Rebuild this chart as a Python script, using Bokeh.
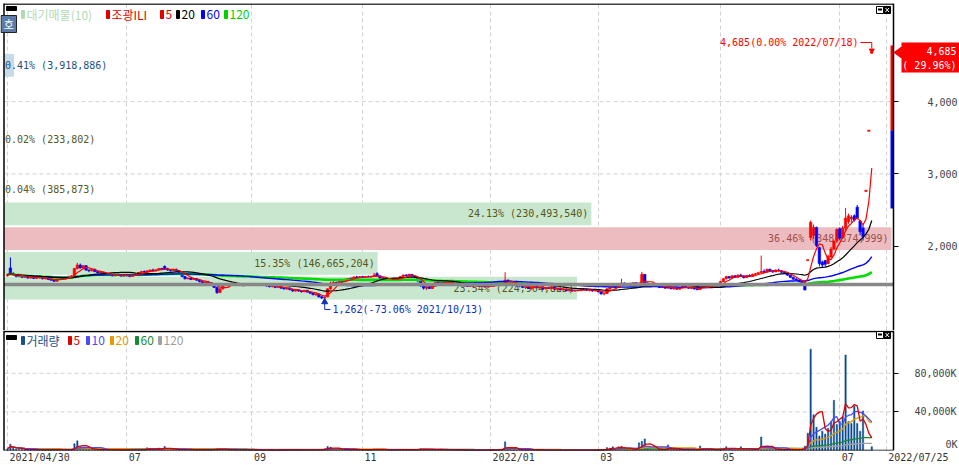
import numpy as np
import pandas as pd
from bokeh.plotting import figure
from bokeh.layouts import column
from bokeh.models import (ColumnDataSource, Range1d, FixedTicker, Grid,
                          LinearAxis, NumeralTickFormatter)
from bokeh.core.properties import value
from bokeh.embed import file_html
from bokeh.resources import INLINE

# ---------------- data ----------------
opens = [
 1590,1700,1620,1600,1580,1590,1570,1585,1560,1575,
 1555,1570,1565,1550,1560,1540,1530,1515,1550,1560,
 1545,1570,1585,1590,1690,1740,1700,1730,1670,1660,
 1680,1650,1630,1640,1610,1625,1600,1590,1615,1600,
 1585,1595,1590,1580,1610,1620,1635,1650,1640,1660,
 1670,1660,1675,1690,1720,1690,1670,1665,1680,1660,
 1630,1580,1550,1560,1540,1550,1530,1510,1490,1505,
 1495,1475,1430,1360,1410,1470,1460,1470,1490,1465,
 1475,1455,1465,1485,1470,1475,1460,1470,1465,1470,
 1450,1440,1450,1430,1445,1420,1410,1420,1400,1380,
 1395,1380,1370,1390,1365,1350,1330,1340,1300,1285,
 1300,1410,1490,1500,1495,1515,1510,1545,1555,1545,
 1575,1565,1580,1570,1580,1575,1585,1620,1590,1560,
 1545,1550,1530,1545,1535,1555,1580,1600,1590,1610,
 1585,1570,1520,1450,1420,1440,1415,1460,1500,1490,
 1510,1500,1510,1495,1475,1460,1470,1450,1465,1445,
 1455,1450,1460,1445,1455,1440,1450,1445,1465,1480,
 1495,1510,1530,1510,1500,1470,1450,1460,1430,1440,
 1415,1435,1445,1425,1435,1410,1425,1415,1435,1405,
 1415,1395,1405,1385,1395,1380,1390,1385,1405,1400,
 1390,1395,1380,1390,1370,1340,1345,1410,1430,1450,
 1430,1460,1490,1470,1485,1480,1495,1480,1470,1610,
 1490,1475,1480,1460,1450,1430,1445,1420,1435,1410,
 1420,1405,1425,1450,1430,1420,1430,1410,1400,1435,
 1445,1440,1455,1450,1465,1450,1510,1550,1580,1560,
 1590,1570,1600,1590,1565,1595,1580,1610,1620,1635,
 1650,1640,1680,1660,1645,1670,1660,1640,1630,1600,
 1570,1545,1530,1510,1490,1800,2120,2150,2260,1980,
 1780,1800,1760,1850,1960,2080,2240,2120,2250,2340,
 2380,2420,2540,2350,2250,2758,3590,4670]
highs = [
 1620,1845,1640,1610,1600,1600,1590,1590,1580,1580,
 1575,1585,1570,1565,1570,1550,1535,1560,1570,1565,
 1575,1590,1600,1700,1770,1760,1740,1740,1680,1690,
 1690,1660,1650,1645,1630,1630,1615,1620,1625,1610,
 1600,1605,1600,1615,1630,1640,1660,1665,1670,1680,
 1690,1680,1700,1700,1735,1700,1680,1690,1690,1665,
 1640,1590,1570,1565,1555,1560,1540,1520,1510,1520,
 1500,1480,1440,1420,1480,1490,1480,1500,1495,1480,
 1485,1470,1490,1490,1480,1480,1475,1475,1480,1475,
 1460,1455,1455,1450,1450,1430,1425,1430,1410,1400,
 1400,1390,1395,1395,1375,1360,1345,1345,1310,1300,
 1420,1510,1520,1510,1520,1530,1550,1560,1570,1580,
 1590,1585,1590,1585,1595,1590,1630,1640,1595,1570,
 1560,1555,1550,1555,1560,1585,1610,1615,1620,1615,
 1600,1575,1525,1460,1450,1450,1470,1510,1515,1520,
 1520,1515,1525,1500,1485,1475,1480,1470,1470,1460,
 1465,1465,1470,1460,1460,1455,1460,1470,1490,1500,
 1520,1640,1540,1530,1505,1480,1465,1470,1445,1450,
 1440,1450,1460,1440,1450,1430,1440,1440,1445,1420,
 1420,1410,1410,1400,1400,1395,1400,1410,1420,1410,
 1400,1400,1395,1395,1380,1350,1420,1440,1460,1470,
 1470,1550,1500,1490,1495,1500,1500,1490,1645,1615,
 1500,1490,1485,1470,1460,1450,1450,1440,1440,1425,
 1430,1430,1460,1455,1440,1435,1435,1420,1440,1450,
 1455,1460,1465,1470,1470,1520,1560,1590,1585,1600,
 1600,1610,1620,1600,1600,1610,1620,1630,1640,1870,
 1680,1690,1690,1670,1680,1690,1670,1660,1640,1610,
 1580,1560,1545,1520,1495,1813,2355,2300,2270,1990,
 1800,1810,1880,1990,2090,2250,2260,2280,2530,2450,
 2430,2440,2570,2360,2300,2773,3605,4685]
lows = [
 1580,1610,1590,1570,1570,1560,1560,1550,1550,1545,
 1545,1555,1540,1540,1530,1520,1505,1510,1545,1540,
 1540,1560,1570,1585,1680,1690,1680,1660,1640,1650,
 1640,1620,1615,1600,1600,1590,1580,1585,1595,1580,
 1575,1580,1570,1575,1600,1610,1625,1630,1635,1650,
 1655,1650,1665,1670,1680,1660,1650,1660,1650,1620,
 1570,1540,1540,1530,1530,1520,1500,1480,1480,1490,
 1465,1420,1340,1350,1400,1450,1440,1460,1460,1450,
 1450,1440,1460,1465,1460,1455,1455,1455,1460,1440,
 1430,1430,1420,1420,1410,1400,1395,1390,1370,1370,
 1370,1360,1365,1360,1340,1320,1310,1290,1270,1262,
 1295,1400,1480,1485,1490,1500,1505,1535,1540,1540,
 1560,1560,1565,1560,1570,1565,1575,1580,1550,1535,
 1530,1520,1525,1530,1530,1550,1575,1585,1585,1580,
 1560,1510,1440,1400,1395,1410,1410,1455,1485,1485,
 1495,1490,1490,1470,1455,1450,1445,1440,1440,1435,
 1440,1445,1440,1435,1430,1430,1440,1440,1460,1470,
 1490,1500,1500,1490,1460,1440,1430,1420,1410,1410,
 1400,1420,1420,1410,1405,1400,1410,1410,1400,1395,
 1390,1385,1380,1375,1370,1370,1375,1380,1395,1380,
 1375,1370,1375,1360,1330,1320,1340,1400,1420,1420,
 1425,1450,1460,1460,1470,1475,1470,1465,1465,1480,
 1465,1460,1450,1440,1420,1420,1410,1410,1405,1400,
 1400,1400,1420,1420,1410,1405,1400,1390,1395,1425,
 1430,1435,1440,1445,1440,1445,1505,1540,1550,1555,
 1560,1565,1580,1555,1560,1575,1575,1600,1610,1620,
 1630,1635,1650,1630,1640,1650,1630,1620,1590,1560,
 1530,1520,1500,1480,1390,1800,2080,2100,1990,1720,
 1700,1720,1750,1840,1940,2050,2080,2100,2200,2310,
 2330,2340,2370,2150,2080,2758,3590,4670]
closes = [
 1605,1625,1600,1580,1595,1570,1585,1560,1575,1555,
 1570,1565,1550,1560,1540,1530,1515,1550,1560,1545,
 1570,1585,1590,1690,1740,1700,1730,1670,1660,1680,
 1650,1630,1640,1610,1625,1600,1590,1615,1600,1585,
 1595,1590,1580,1610,1620,1635,1650,1640,1660,1670,
 1660,1675,1690,1680,1690,1670,1665,1680,1660,1630,
 1580,1550,1560,1540,1550,1530,1510,1490,1505,1495,
 1475,1430,1360,1410,1470,1460,1470,1490,1465,1475,
 1455,1465,1485,1470,1475,1460,1470,1465,1470,1450,
 1440,1450,1430,1445,1420,1410,1420,1400,1380,1395,
 1380,1370,1390,1365,1350,1330,1340,1300,1285,1295,
 1410,1490,1500,1495,1515,1510,1545,1555,1545,1575,
 1565,1580,1570,1580,1575,1585,1600,1590,1560,1545,
 1550,1530,1545,1535,1555,1580,1600,1590,1610,1585,
 1570,1520,1450,1420,1440,1415,1460,1500,1490,1510,
 1500,1510,1495,1475,1460,1470,1450,1465,1445,1455,
 1450,1460,1445,1455,1440,1450,1445,1465,1480,1495,
 1510,1530,1510,1500,1470,1450,1460,1430,1440,1415,
 1435,1445,1425,1435,1410,1425,1415,1435,1405,1415,
 1395,1405,1385,1395,1380,1390,1385,1405,1400,1390,
 1395,1380,1390,1370,1340,1345,1410,1430,1450,1430,
 1460,1490,1470,1485,1480,1495,1480,1485,1610,1490,
 1475,1480,1460,1450,1430,1445,1420,1435,1410,1420,
 1405,1425,1450,1430,1420,1430,1410,1400,1435,1445,
 1440,1455,1450,1465,1450,1510,1550,1580,1560,1590,
 1570,1600,1590,1565,1595,1580,1610,1620,1635,1650,
 1640,1680,1660,1645,1670,1660,1640,1630,1600,1570,
 1545,1530,1510,1490,1395,1813,2330,2260,2010,1760,
 1740,1750,1860,1960,2070,2230,2110,2250,2390,2420,
 2400,2360,2390,2200,2133,2773,3605,4685]
# volume in thousands of shares
volumes_k = [
 1800,6500,2400,1300,900,1100,800,700,900,600,
 700,500,800,600,900,700,1400,1100,600,500,
 600,900,1200,7000,10000,3800,2600,2100,1300,1000,
 900,800,700,600,500,700,600,500,400,600,
 500,400,500,800,1000,900,1300,700,2800,2000,
 1500,1200,2600,1400,4200,1600,1000,800,700,900,
 1200,1100,700,600,800,700,900,1000,600,500,
 800,1500,2200,1400,1100,800,700,600,700,500,
 600,500,700,600,500,400,500,600,400,500,
 600,500,400,500,700,600,500,400,600,700,
 500,600,700,500,800,900,700,1100,1400,1800,
 4200,3500,1800,1200,1000,900,1300,1100,800,1000,
 900,800,700,900,600,800,1900,1400,900,700,
 600,700,500,600,800,1000,1200,800,900,700,
 800,1300,2100,1600,1000,900,1200,1400,900,800,
 700,600,700,500,600,500,400,600,500,400,
 500,400,600,500,400,500,600,700,900,1100,
 1500,9000,2500,1300,900,800,700,600,700,500,
 600,500,400,500,600,400,500,400,500,400,
 400,500,300,400,500,400,300,600,400,500,
 400,500,600,500,900,1000,3000,2400,3900,1800,
 3800,4400,1500,1200,900,800,1000,8000,9500,12000,
 2500,1600,1100,900,800,1000,1200,5800,1500,900,
 700,800,1100,900,700,600,800,700,4700,1200,
 900,1000,800,700,900,1800,2500,4000,1800,1300,
 1100,1500,3800,1400,1000,1200,1500,1700,2000,14000,
 2500,1800,1400,1200,1000,900,800,900,1100,1000,
 800,900,1200,1500,4500,18000,105000,37000,24000,15000,
 20000,17000,23000,30000,52000,27000,30000,35000,99000,30000,
 28000,46000,28000,20000,41000,386,234,3919]

date_tick_idx = [0, 41, 84, 122, 166, 203, 245, 286, 302]
date_tick_labels = ["2021/04/30", "07", "09", "11", "2022/01", "03", "05", "07", "2022/07/25"]
price_ticks = [2000, 3000, 4000]
volume_ticks = [0, 40000, 80000]
volume_tick_labels = ["0K", "40,000K", "80,000K"]
base_line_price = 1470
band_pcts = [23.54, 15.35, 36.46, 24.13, 0.04, 0.0, 0.02, 0.0, 0.0, 0.41]
band_vols = [224964825, 146665204, 348874999, 230493540, 385873, 0, 233802, 0, 0, 3918886]
low_date = "2021/10/13"
high_date = "2022/07/18"
last_change_pct = 29.96
range_bar_levels = [2520, 3605, 4776]
price_ma_windows = [5, 20, 60, 120]
volume_ma_windows = [5, 10, 20, 60, 120]

n = len(closes)
for name, arr in [("opens", opens), ("highs", highs), ("lows", lows), ("vol", volumes_k)]:
    assert len(arr) == n, (name, len(arr), n)

# ---------------- helpers: reference-pixel -> data coordinates ----------------
def xr(px):
    return (px - 7.0) / 2.91

def pr(py):
    return 2000.0 - (py - 245.7) * 13.83

def vr(py):
    return (450.0 - py) / 38.6 * 40000.0

MONO = "DejaVu Sans Mono"
KR = "Noto Sans CJK KR"
GRID_C = "#d2d2d2"
CHAR_W = 6.02

df = pd.DataFrame(dict(i=np.arange(n), o=opens, h=highs, l=lows, c=closes, v=volumes_k))
df["color"] = np.where(df.c >= df.o, "#ff0000", "#0000ff")
df["top"] = df[["o", "c"]].max(axis=1)
df["bot"] = df[["o", "c"]].min(axis=1)
for w in price_ma_windows:
    df[f"ma{w}"] = df.c.rolling(w, min_periods=1).mean()
for w in volume_ma_windows:
    df[f"vma{w}"] = df.v.rolling(w, min_periods=1).mean()
src = ColumnDataSource(df)

price_low = min(lows)
price_high = max(highs)
i_low = int(np.argmin(lows))
i_high = int(np.argmax(highs))
last_price = closes[-1]

X_RANGE = Range1d(xr(0), xr(959))


def txt(fig, x, y, text, color, font=MONO, size="10px", align="left", baseline="middle"):
    fig.text(x=[x], y=[y], text=[text], text_color=color, text_font=value(font),
             text_font_size=size, text_align=align, text_baseline=baseline)


def icons(fig, yconv, ytop):
    fig.quad(left=[xr(876)], right=[xr(883)], top=[yconv(ytop)], bottom=[yconv(ytop + 7)],
             fill_color="white", line_color="black", line_width=1)
    fig.quad(left=[xr(877.5)], right=[xr(881.5)], top=[yconv(ytop + 2)], bottom=[yconv(ytop + 4)],
             fill_color="black", line_color=None)
    fig.quad(left=[xr(883.5)], right=[xr(890)], top=[yconv(ytop)], bottom=[yconv(ytop + 7)],
             fill_color="black", line_color="black")
    fig.segment(x0=[xr(885), xr(885)], y0=[yconv(ytop + 1.5), yconv(ytop + 5.5)],
                x1=[xr(888.5), xr(888.5)], y1=[yconv(ytop + 5.5), yconv(ytop + 1.5)],
                line_color="white", line_width=1)


def right_axis(fig, ticks, standoff, overrides=None, fmt=None):
    ax = LinearAxis(ticker=FixedTicker(ticks=ticks), fixed_location=xr(893),
                    major_tick_out=5, major_tick_in=0, minor_tick_line_color=None,
                    major_label_standoff=standoff, major_label_text_font=MONO,
                    major_label_text_font_size="10px", major_label_text_color="#444444",
                    axis_line_color="black", axis_line_width=1.5)
    if overrides:
        ax.major_label_overrides = overrides
    if fmt:
        ax.formatter = fmt
    fig.add_layout(ax, "right")


# ---------------- price panel ----------------
p = figure(frame_width=959, frame_height=327, x_range=X_RANGE, y_range=Range1d(pr(330), pr(3)),
           output_backend="svg", toolbar_location=None,
           x_axis_location=None, y_axis_location=None,
           min_border_left=0, min_border_top=3, min_border_bottom=0, min_border_right=0,
           outline_line_color=None, background_fill_color="white", border_fill_color="white")
right_axis(p, price_ticks, 29, fmt=NumeralTickFormatter(format="0,0"))
for g in p.grid:
    g.visible = False
p.add_layout(Grid(dimension=0, ticker=FixedTicker(ticks=date_tick_idx),
                  grid_line_color=GRID_C, grid_line_dash="4 3"))
p.segment(x0=[xr(4)] * len(price_ticks), x1=[xr(892)] * len(price_ticks), y0=price_ticks, y1=price_ticks,
          line_color=GRID_C, line_dash="4 3", line_width=1)

# supply bands (대기매물)
step = (price_high - price_low) / 10.0
max_pct = max(band_pcts)
cur_band = min(int((last_price - price_low) // step), 9)
left_edge = xr(3.5)
full_right = xr(891)
bq = dict(left=[], right=[], top=[], bottom=[], color=[])
lab_r = dict(x=[], y=[], text=[], color=[])
lab_l = dict(x=[], y=[], text=[], color=[])
for k, (pct, vol) in enumerate(zip(band_pcts, band_vols)):
    if vol == 0:
        continue
    b = price_low + k * step
    t = b + step - 2 * 13.83
    r = left_edge + pct / max_pct * (full_right - left_edge)
    if pct == max_pct:
        fc, tc = "#ecbcc0", "#a14c4c"
    elif k == cur_band:
        fc, tc = "#c6dcea", "#1d4f80"
    else:
        fc, tc = "#c9e6cf", "#56581c"
    bq["left"].append(left_edge); bq["right"].append(r)
    bq["top"].append(t); bq["bottom"].append(b); bq["color"].append(fc)
    label = f"{pct:.2f}% ({vol:,})"
    ym = (b + t) / 2
    if (r - left_edge) * 2.91 > 140:
        lab_r["x"].append(r - 3 / 2.91); lab_r["y"].append(ym)
        lab_r["text"].append(label); lab_r["color"].append(tc)
    else:
        lab_l["x"].append(xr(4.5)); lab_l["y"].append(ym)
        lab_l["text"].append(label); lab_l["color"].append(tc)
p.quad(left="left", right="right", top="top", bottom="bottom", fill_color="color",
       line_color=None, source=ColumnDataSource(bq))
p.text(x="x", y="y", text="text", text_color="color", text_align="right", text_baseline="middle",
       text_font=value(MONO), text_font_size="10px", source=ColumnDataSource(lab_r))
p.text(x="x", y="y", text="text", text_color="color", text_align="left", text_baseline="middle",
       text_font=value(MONO), text_font_size="10px", source=ColumnDataSource(lab_l))

# candles
p.segment(x0="i", y0="l", x1="i", y1="h", line_color="color", line_width=1, source=src)
p.vbar(x="i", width=0.85, top="top", bottom="bot", fill_color="color", line_color="color",
       line_width=0.6, source=src)

# moving averages
ma_style = {5: ("#ff0000", 1.2), 20: ("#000000", 1.2), 60: ("#0000ff", 1.4), 120: ("#00dd00", 2.6)}
for w in price_ma_windows[::-1]:
    c, lw = ma_style[w]
    p.line(x="i", y=f"ma{w}", line_color=c, line_width=lw, source=src)

# base line
p.line(x=[xr(3.5), xr(893)], y=[base_line_price] * 2, line_color="#888888", line_width=3.5)

# range bar by the axis
p.quad(left=[xr(890)] * 2, right=[xr(893)] * 2,
       bottom=range_bar_levels[:2], top=range_bar_levels[1:],
       fill_color=["#0000ff", "#ff0000"], line_color=None)

# low annotation
low_txt = f"{price_low:,}({(price_low - price_high) / price_high * 100:.2f}% {low_date})"
p.scatter(x=[i_low], y=[pr(301.5)], marker="triangle", size=6, color="#1030c0")
p.line(x=[i_low, i_low, xr(330)], y=[pr(302), pr(309), pr(309)], line_color="#1030c0", line_width=1)
txt(p, xr(332), pr(309), low_txt, "#1030c0")

# high annotation
high_txt = f"{price_high:,}(0.00% {high_date})"
p.line(x=[xr(860), i_high, i_high], y=[pr(42), pr(42), pr(48)], line_color="#ff0000", line_width=1)
p.scatter(x=[i_high], y=[pr(50)], marker="inverted_triangle", size=5, color="#ff0000")
txt(p, xr(858), pr(42), high_txt, "#ff0000", align="right")

# current price box (right of the axis)
p.patch(x=[xr(893.5), xr(901), xr(901)], y=[pr(52), pr(46.5), pr(57.5)], fill_color="#ff0000",
        line_color="#ff0000")
p.quad(left=[xr(901)], right=[xr(958.5)], top=[pr(42)], bottom=[pr(72)], fill_color="#ff0000",
       line_color=None)
txt(p, xr(956), pr(50), f"{last_price:,}", "white", align="right")
txt(p, xr(956), pr(65), f"( {last_change_pct:.2f}%)", "white", align="right")

# frame borders
p.line(x=[xr(3.5), xr(3.5)], y=[pr(2.5), pr(330)], line_color="black", line_width=1.5)
p.line(x=[xr(3.5), xr(893)], y=[pr(3.5), pr(3.5)], line_color="black", line_width=1.5)

# legend (top-left)
p.quad(left=[xr(6)], right=[xr(16)], top=[pr(6)], bottom=[pr(10)], color="black")
p.quad(left=[xr(0.5)], right=[xr(16)], top=[pr(15)], bottom=[pr(32)], fill_color="#5a7ca6",
       line_color="#222222", line_width=1)
txt(p, xr(8.3), pr(23.5), "호", "white", font=KR, size="11px", align="center")
legend_items = [(21, "대기매물(10)", "#b3dab3"), (106, "조광ILI", "#e00000"), (160, "5", "#e00000"),
                (176, "20", "#000000"), (201, "60", "#0000ff"), (224, "120", "#00d000")]
for mx, t_, col in legend_items:
    p.quad(left=[xr(mx)], right=[xr(mx + 3)], top=[pr(10)], bottom=[pr(18)], color=col)
    txt(p, xr(mx + 5), pr(14), t_, col, font=KR, size="12px")
icons(p, pr, 6)

# ---------------- volume panel ----------------
v = figure(frame_width=959, frame_height=120, x_range=X_RANGE, y_range=Range1d(0, vr(330)),
           output_backend="svg", toolbar_location=None, y_axis_location=None,
           min_border_left=0, min_border_top=0, min_border_bottom=15, min_border_right=0,
           outline_line_color=None, background_fill_color="white", border_fill_color="white")
right_axis(v, volume_ticks[1:], 16, overrides=dict(zip(volume_ticks[1:], volume_tick_labels[1:])))
txt(v, xr(957), vr(444), volume_tick_labels[0], "#444444", align="right")

# date axis: labels start just right of each tick (shifted positions), tick marks on a second axis
shifted = [i + (2 + len(lbl) * CHAR_W / 2) / 2.91 for i, lbl in zip(date_tick_idx, date_tick_labels)]
v.xaxis.ticker = FixedTicker(ticks=shifted)
v.xaxis.major_label_overrides = dict(zip(shifted, date_tick_labels))
v.xaxis.major_tick_out = 0
v.xaxis.major_tick_in = 0
v.xaxis.minor_tick_line_color = None
v.xaxis.axis_line_color = None
v.xaxis.major_label_standoff = 1
v.xaxis.major_label_text_font = MONO
v.xaxis.major_label_text_font_size = "10px"
v.xaxis.major_label_text_color = "#333333"
tick_axis = LinearAxis(ticker=FixedTicker(ticks=date_tick_idx), fixed_location=0,
                       bounds=(xr(3), xr(893)), major_tick_out=7, major_tick_in=0,
                       minor_tick_line_color=None, axis_line_color="black", axis_line_width=1.5,
                       major_label_overrides={i: "" for i in date_tick_idx})
v.add_layout(tick_axis, "below")

for g in v.grid:
    g.visible = False
v.add_layout(Grid(dimension=0, ticker=FixedTicker(ticks=date_tick_idx),
                  grid_line_color=GRID_C, grid_line_dash="4 3"))
v.segment(x0=[xr(4)] * 2, x1=[xr(892)] * 2, y0=volume_ticks[1:], y1=volume_ticks[1:],
          line_color=GRID_C, line_dash="4 3", line_width=1)

v.vbar(x="i", width=0.45, top="v", bottom=0, fill_color="#0b4a91", line_color="#0b4a91",
       line_width=0.5, source=src)
vma_style = {5: "#e00000", 10: "#4a4aff", 20: "#e39b00", 60: "#158a35", 120: "#a0a0a0"}
for w in volume_ma_windows[::-1]:
    v.line(x="i", y=f"vma{w}", line_color=vma_style[w], line_width=1.3, source=src)

v.line(x=[xr(3.5), xr(3.5)], y=[vr(330), vr(450)], line_color="black", line_width=1.5)
v.line(x=[xr(3.5), xr(893)], y=[vr(331), vr(331)], line_color="black", line_width=1.5)

v.quad(left=[xr(6)], right=[xr(16)], top=[vr(335)], bottom=[vr(339)], color="black")
vol_legend = [(21, "거래량", "#1a4f8a"), (68, "5", "#e00000"), (86, "10", "#4a4aff"),
              (110, "20", "#e39b00"), (135, "60", "#158a35"), (158, "120", "#a0a0a0")]
for mx, t_, col in vol_legend:
    v.quad(left=[xr(mx)], right=[xr(mx + 3)], top=[vr(336)], bottom=[vr(344)], color=col)
    txt(v, xr(mx + 5), vr(340), t_, col, font=KR, size="12px")
icons(v, vr, 331)

layout = column(p, v)
open("out.html", "w").write(file_html(layout, INLINE))
